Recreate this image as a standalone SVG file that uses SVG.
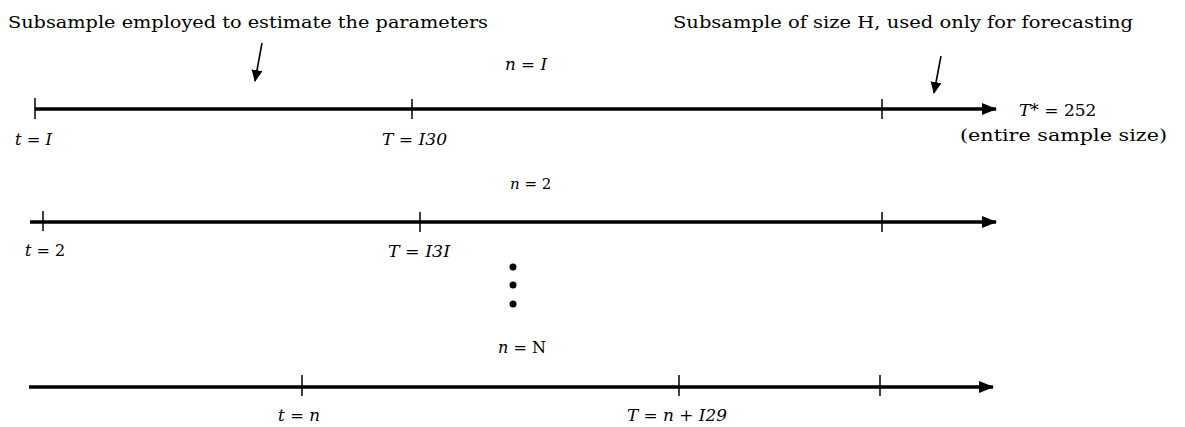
<svg xmlns="http://www.w3.org/2000/svg" width="1185" height="427" viewBox="0 0 1185 427">
<defs>
<marker id="ah" markerUnits="userSpaceOnUse" markerWidth="16" markerHeight="12" refX="14" refY="6" orient="auto">
<path d="M0,0 L15,6 L0,12 Z" fill="#000"/>
</marker>
<marker id="sh" markerUnits="userSpaceOnUse" markerWidth="12" markerHeight="14" refX="11" refY="5.5" orient="auto">
<path d="M0,0 L12,5.5 L0,11 Z" fill="#000"/>
</marker>
<style>
.axis{stroke:#000;stroke-width:3.5;fill:none}
.tick{stroke:#000;stroke-width:1.5}
.ptr{stroke:#000;stroke-width:1.6;fill:none}
.hd{font-family:"DejaVu Serif","Liberation Serif",serif;font-size:17px;fill:#000}
.lb{font-family:"DejaVu Serif","Liberation Serif",serif;font-size:16px;font-style:italic;fill:#000}
.up{font-style:normal}
</style>
</defs>
<rect width="1185" height="427" fill="#fff"/>

<g id="headings">
<text class="hd" x="8" y="28" textLength="480" lengthAdjust="spacingAndGlyphs">Subsample employed to estimate the parameters</text>
<text class="hd" x="673" y="28" textLength="460" lengthAdjust="spacingAndGlyphs">Subsample of size H, used only for forecasting</text>
</g>

<g id="connectors">
<line class="ptr" x1="262" y1="43" x2="255" y2="81" marker-end="url(#sh)"/>
<line class="ptr" x1="941" y1="56" x2="934" y2="93" marker-end="url(#sh)"/>
<line class="axis" x1="35" y1="109" x2="996" y2="109" marker-end="url(#ah)"/>
<line class="axis" x1="30" y1="222" x2="996" y2="222" marker-end="url(#ah)"/>
<line class="axis" x1="29" y1="387" x2="993" y2="387" marker-end="url(#ah)"/>
</g>

<g id="timeline1">
<line class="tick" x1="35" y1="98" x2="35" y2="119"/>
<line class="tick" x1="412" y1="99" x2="412" y2="119"/>
<line class="tick" x1="882" y1="99" x2="882" y2="119"/>
<text class="lb" x="505" y="70" textLength="42" lengthAdjust="spacingAndGlyphs">n = I</text>
<text class="lb" x="15" y="145" textLength="37" lengthAdjust="spacingAndGlyphs">t = I</text>
<text class="lb" x="382" y="145" textLength="65" lengthAdjust="spacingAndGlyphs">T = I30</text>
<text class="lb" x="1019" y="116" style="font-size:17px">T*<tspan class="up"> = 252</tspan></text>
<text class="hd" x="960" y="141" textLength="207" lengthAdjust="spacingAndGlyphs">(entire sample size)</text>
</g>

<g id="timeline2">
<line class="tick" x1="43" y1="211" x2="43" y2="231"/>
<line class="tick" x1="420" y1="212" x2="420" y2="232"/>
<line class="tick" x1="882" y1="212" x2="882" y2="232"/>
<text class="lb" x="510" y="189" style="font-size:15px">n = <tspan class="up">2</tspan></text>
<text class="lb" x="25" y="256">t = <tspan class="up">2</tspan></text>
<text class="lb" x="388" y="257" textLength="62" lengthAdjust="spacingAndGlyphs">T = I3I</text>
</g>

<g id="ellipsis">
<circle cx="513" cy="267" r="3.5" fill="#000"/>
<circle cx="513" cy="285" r="3.5" fill="#000"/>
<circle cx="513" cy="304" r="3.5" fill="#000"/>
</g>

<g id="timeline3">
<line class="tick" x1="302" y1="375" x2="302" y2="396"/>
<line class="tick" x1="679" y1="375" x2="679" y2="396"/>
<line class="tick" x1="880" y1="375" x2="880" y2="396"/>
<text class="lb" x="498" y="353">n = <tspan class="up">N</tspan></text>
<text class="lb" x="278" y="421" textLength="42" lengthAdjust="spacingAndGlyphs">t = n</text>
<text class="lb" x="627" y="421" textLength="100" lengthAdjust="spacingAndGlyphs">T = n + I29</text>
</g>
</svg>
